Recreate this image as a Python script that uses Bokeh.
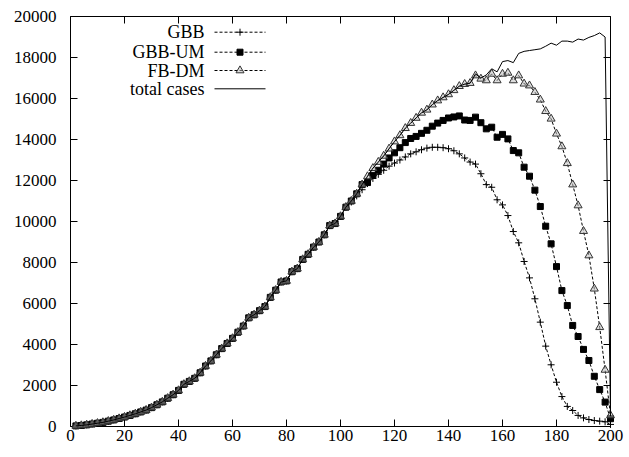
from bokeh.plotting import figure
from bokeh.models import Range1d, Label
from bokeh.embed import file_html
from bokeh.resources import INLINE

# ---------------- data ----------------
days = list(range(2, 201, 2))

total_cases = [
    30, 50, 80, 120, 160, 200, 260, 320, 390, 460,
    540, 620, 710, 800, 920, 1060, 1200, 1380, 1550, 1760,
    2060, 2200, 2350, 2620, 2950, 3200, 3500, 3800, 4050, 4300,
    4600, 4900, 5300, 5450, 5650, 5850, 6300, 6650, 7050, 7100,
    7550, 7700, 8150, 8400, 8750, 9000, 9350, 9800, 9900, 10250,
    10700, 11000, 11350, 11800, 12200, 12600, 12900, 13200, 13550, 13900,
    14200, 14550, 14800, 15050, 15300, 15450, 15700, 15900, 16050, 16200,
    16400, 16600, 16700, 16750, 17200, 17000, 17150, 17450, 17300, 17800,
    17850, 17750, 18200, 18300, 18340, 18380, 18420, 18550, 18700, 18600,
    18800, 18800, 18750, 18900, 18850, 18980, 19070, 19200, 19000, 500,
]

gbb_tail = {
    104: 10950, 106: 11250, 108: 11550, 110: 11850, 112: 12100, 114: 12300,
    116: 12500, 118: 12700, 120: 12850, 122: 13000, 124: 13150, 126: 13300,
    128: 13400, 130: 13500, 132: 13580, 134: 13620, 136: 13620, 138: 13600,
    140: 13550, 142: 13450, 144: 13300, 146: 13100, 148: 12900, 150: 12800,
    152: 12330, 154: 11800, 156: 11670, 158: 11060, 160: 10810, 162: 10290,
    164: 9510, 166: 8960, 168: 8050, 170: 7250, 172: 6230, 174: 5090,
    176: 3920, 178: 3010, 180: 2160, 182: 1460, 184: 980, 186: 780,
    188: 540, 190: 420, 192: 340, 194: 290, 196: 260, 198: 230, 200: 100,
}

gbb_um_tail = {
    110: 11900, 112: 12250, 114: 12500, 116: 12800, 118: 13100, 120: 13350,
    122: 13600, 124: 13850, 126: 14050, 128: 14150, 130: 14300, 132: 14450,
    134: 14650, 136: 14800, 138: 14930, 140: 15050, 142: 15100, 144: 15150,
    146: 14950, 148: 14930, 150: 15090, 152: 14820, 154: 14520, 156: 14600,
    158: 14110, 160: 14250, 162: 14030, 164: 13460, 166: 13350, 168: 12650,
    170: 12210, 172: 11530, 174: 10730, 176: 9770, 178: 8910, 180: 7800,
    182: 6630, 184: 5900, 186: 4930, 188: 4390, 190: 3760, 192: 3220,
    194: 2450, 196: 1800, 198: 1190, 200: 380,
}

fb_dm_tail = {
    150: 17120, 152: 16960, 154: 16880, 156: 17200, 158: 16880, 160: 17200,
    162: 17250, 164: 16880, 166: 17120, 168: 16720, 170: 16630, 172: 16310,
    174: 15940, 176: 15380, 178: 15010, 180: 14280, 182: 13660, 184: 12840,
    186: 11800, 188: 10780, 190: 9530, 192: 8340, 194: 6720, 196: 4840,
    198: 2760, 200: 540,
}

gbb = [gbb_tail.get(d, t) for d, t in zip(days, total_cases)]
gbb_um = [gbb_um_tail.get(d, t) for d, t in zip(days, total_cases)]
fb_dm = [fb_dm_tail.get(d, t) for d, t in zip(days, total_cases)]

x_ticks = list(range(0, 201, 20))
y_ticks = list(range(0, 20001, 2000))
x_tick_labels = [str(t) for t in x_ticks]
y_tick_labels = [str(t) for t in y_ticks]
series_names = ["GBB", "GBB-UM", "FB-DM", "total cases"]

X_MIN, X_MAX = 0, 200
Y_MIN, Y_MAX = 0, 20000

# ---------------- geometry ----------------
FONT = "Liberation Serif"
TICK_FS = "17px"
LEG_FS = "18px"
W, H = 629, 457
L, R, T, B = 70, 19, 16, 31          # box margins inside the canvas
FW, FH = W - L - R, H - T - B
TICK = 7

sx = (X_MAX - X_MIN) / FW            # data units per pixel
sy = (Y_MAX - Y_MIN) / FH

# the whole canvas is the plotting frame, so labels outside the box are not clipped
p = figure(width=W, height=H, output_backend="svg", toolbar_location=None,
           x_range=Range1d(X_MIN - L * sx, X_MAX + R * sx),
           y_range=Range1d(Y_MIN - B * sy, Y_MAX + T * sy),
           min_border=0)
p.xgrid.visible = False
p.ygrid.visible = False
p.xaxis.visible = False
p.yaxis.visible = False
p.outline_line_color = None
p.background_fill_color = "white"
p.border_fill_color = "white"


def dx(px):
    return X_MIN + (px - L) * sx


def dy(py):
    return Y_MIN + (H - B - py) * sy


# plot box
p.line([X_MIN, X_MAX, X_MAX, X_MIN, X_MIN], [Y_MIN, Y_MIN, Y_MAX, Y_MAX, Y_MIN],
       line_color="black", line_width=1)

# inward ticks on all four edges (gnuplot style, mirrored)
nx, ny = len(x_ticks), len(y_ticks)
p.segment(x0=x_ticks, x1=x_ticks, y0=[Y_MIN] * nx, y1=[Y_MIN + TICK * sy] * nx,
          line_color="black", line_width=1)
p.segment(x0=x_ticks, x1=x_ticks, y0=[Y_MAX] * nx, y1=[Y_MAX - TICK * sy] * nx,
          line_color="black", line_width=1)
p.segment(x0=[X_MIN] * ny, x1=[X_MIN + TICK * sx] * ny, y0=y_ticks, y1=y_ticks,
          line_color="black", line_width=1)
p.segment(x0=[X_MAX] * ny, x1=[X_MAX - TICK * sx] * ny, y0=y_ticks, y1=y_ticks,
          line_color="black", line_width=1)

# tick labels
for t, s in zip(x_ticks, x_tick_labels):
    p.add_layout(Label(x=t, y=Y_MIN, text=s, y_offset=-3,
                       text_align="center", text_baseline="top",
                       text_font=FONT, text_font_size=TICK_FS, text_color="black"))
for t, s in zip(y_ticks, y_tick_labels):
    p.add_layout(Label(x=X_MIN, y=t, text=s, x_offset=-14,
                       text_align="right", text_baseline="middle",
                       text_font=FONT, text_font_size=TICK_FS, text_color="black"))

DASH = "3 2"
TRI_LINE = "#333333"

p.line(days, gbb, line_color="black", line_width=1, line_dash=DASH)
p.scatter(days, gbb, marker="cross", size=7, line_color="black", line_width=1)

p.line(days, gbb_um, line_color="black", line_width=1, line_dash=DASH)
p.scatter(days, gbb_um, marker="square", size=6, fill_color="black", line_color="black")

p.line(days, fb_dm, line_color="black", line_width=1, line_dash=DASH)
p.scatter(days, fb_dm, marker="triangle", size=8, fill_color="#bbbbbb", fill_alpha=0.5,
          line_color=TRI_LINE, line_width=1)

p.line(days, total_cases, line_color="black", line_width=1)

# ---------------- legend (gnuplot style: label left, sample right) ----------------
rows_py = [31.7, 51.7, 70.0, 88.3]
text_x = dx(204)
s0, s1 = dx(214), dx(265)
sm = (s0 + s1) / 2
for name, py in zip(series_names, rows_py):
    yy = dy(py)
    p.add_layout(Label(x=text_x, y=yy, text=name, text_align="right",
                       text_baseline="middle", text_font=FONT,
                       text_font_size=LEG_FS, text_color="black"))
    if name == "total cases":
        p.line([s0, s1], [yy, yy], line_color="black", line_width=1)
    else:
        p.line([s0, s1], [yy, yy], line_color="black", line_width=1, line_dash=DASH)

p.scatter([sm], [dy(rows_py[0])], marker="cross", size=7, line_color="black")
p.scatter([sm], [dy(rows_py[1])], marker="square", size=6, fill_color="black", line_color="black")
p.scatter([sm], [dy(rows_py[2])], marker="triangle", size=8, fill_color="#bbbbbb",
          fill_alpha=0.5, line_color=TRI_LINE, line_width=1)

open("out.html", "w").write(file_html(p, INLINE))
